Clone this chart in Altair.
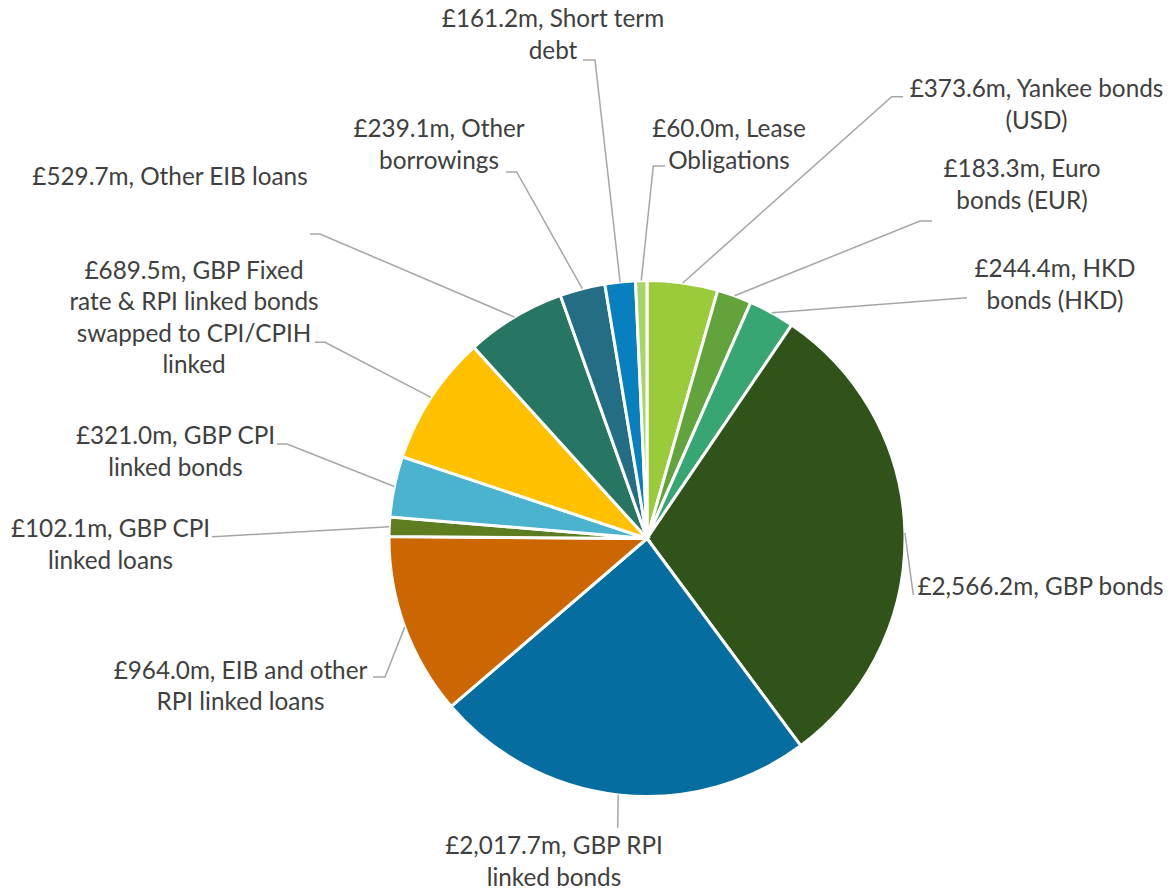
import math
import altair as alt
import pandas as pd

# ---- data (clockwise from 12 o'clock) ----
categories = [
    "Yankee bonds (USD)", "Euro bonds (EUR)", "HKD bonds (HKD)", "GBP bonds",
    "GBP RPI linked bonds", "EIB and other RPI linked loans", "GBP CPI linked loans",
    "GBP CPI linked bonds",
    "GBP Fixed rate & RPI linked bonds swapped to CPI/CPIH linked",
    "Other EIB loans", "Other borrowings", "Short term debt", "Lease Obligations",
]
values = [373.6, 183.3, 244.4, 2566.2, 2017.7, 964.0, 102.1, 321.0, 689.5, 529.7, 239.1, 161.2, 60.0]
colors = ["#9BCA3B", "#62A43B", "#37A672", "#305319", "#066DA0", "#CC6600", "#5E7D21",
          "#4BB2D0", "#FFC000", "#267663", "#236E85", "#0880BF", "#A9D46A"]

# label wrapping: category name split over lines (value prefixed to first line)
label_lines = [
    ["Yankee bonds", "(USD)"],
    ["Euro", "bonds (EUR)"],
    ["HKD", "bonds (HKD)"],
    ["GBP bonds"],
    ["GBP RPI", "linked bonds"],
    ["EIB and other", "RPI linked loans"],
    ["GBP CPI", "linked loans"],
    ["GBP CPI", "linked bonds"],
    ["GBP Fixed", "rate & RPI linked bonds", "swapped to CPI/CPIH", "linked"],
    ["Other EIB loans"],
    ["Other", "borrowings"],
    ["Short term", "debt"],
    ["Lease", "Obligations"],
]

# ---- layout (page pixels) ----
label_x = [1036.5, 1022, 1055, 1040.5, 554, 240.5, 110.5, 175.5, 194, 170, 439, 553, 729]
label_y = [97, 177, 277, 595, 854, 678.5, 537, 444, 278.5, 185, 137, 27, 137]
leader_knees = [
    [(891.7, 96.7), (903, 96.7)],
    [(920, 221), (932, 221)],
    [(967, 297.7)],
    [(913.3, 595)],
    [(617.7, 827.7)],
    [(385, 677), (373, 677)],
    [(222, 536.3), (212, 536.7)],
    [(287, 444), (277, 444)],
    [(325, 342.3), (315, 342.3)],
    [(320, 234), (310, 234)],
    [(516.7, 172), (506, 172)],
    [(595, 60), (583, 60)],
    [(653.3, 166), (665, 166)],
]

W, H, M = 1155, 884, 8
CX, CY, R = 647, 538.5, 258
FONT = "Lato"

df = pd.DataFrame({"category": categories, "value": values, "idx": list(range(len(values)))})

total = sum(values)
cum = 0.0
leader_rows, text_rows = [], []
for i, v in enumerate(values):
    mid = (cum + v / 2) / total * 2 * math.pi
    cum += v
    sx, sy = CX + R * math.sin(mid), CY - R * math.cos(mid)
    pts = [(sx, sy)] + leader_knees[i]
    for j, (x, y) in enumerate(pts):
        leader_rows.append({"id": i, "k": j, "x": x, "y": y})
    lines = list(label_lines[i])
    lines[0] = f"£{v:,.1f}m, " + lines[0]
    text_rows.append({"id": i, "x": label_x[i], "y": label_y[i], "label": "\n".join(lines)})

leaders = pd.DataFrame(leader_rows)
texts = pd.DataFrame(text_rows)

xs = alt.Scale(domain=[M, M + W], nice=False, zero=False)
ys = alt.Scale(domain=[M, M + H], nice=False, zero=False, reverse=True)

pie = alt.Chart(df).mark_arc(outerRadius=R, stroke="white", strokeWidth=3).encode(
    theta=alt.Theta("value:Q", stack=True),
    color=alt.Color("category:N", scale=alt.Scale(domain=categories, range=colors), legend=None),
    order=alt.Order("idx:Q"),
    x=alt.value(CX - M),
    y=alt.value(CY - M),
)

lines_chart = alt.Chart(leaders).mark_line(color="#A6A6A6", strokeWidth=1.5).encode(
    x=alt.X("x:Q", scale=xs, axis=None),
    y=alt.Y("y:Q", scale=ys, axis=None),
    detail="id:N",
    order="k:Q",
)

text_chart = alt.Chart(texts).mark_text(
    font=FONT, fontSize=24.3, color="#404040", align="center", baseline="alphabetic",
    lineBreak="\n", lineHeight=31.5,
).encode(
    x=alt.X("x:Q", scale=xs, axis=None),
    y=alt.Y("y:Q", scale=ys, axis=None),
    text="label:N",
)

chart = alt.layer(pie, lines_chart, text_chart).properties(
    width=W, height=H, padding=0, autosize=alt.AutoSizeParams(type="none"),
).configure_view(stroke=None)

chart.save("out.html", embed_options={"renderer": "svg", "actions": False})
